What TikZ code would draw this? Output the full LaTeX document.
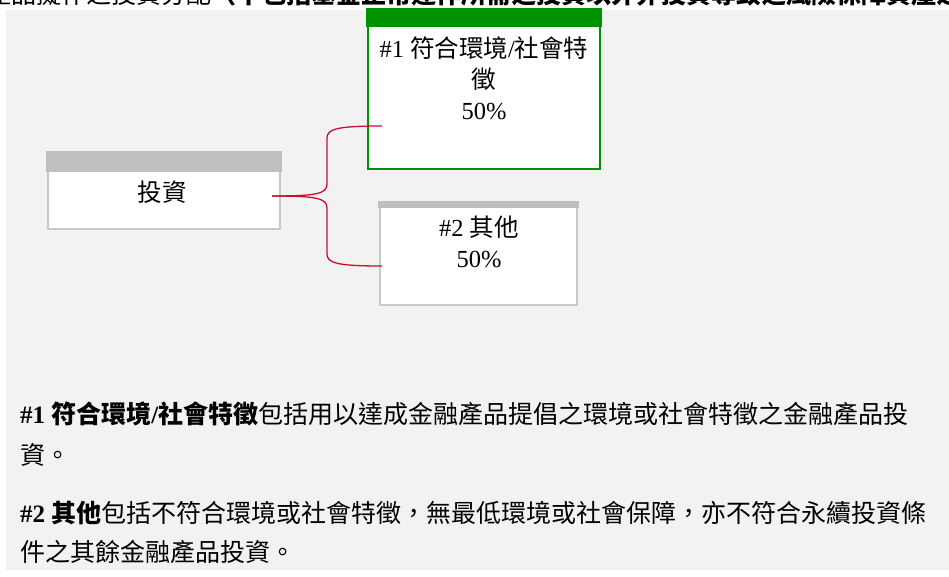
\documentclass[tikz,border=0pt]{standalone}
\usepackage{fontspec}
\setmainfont{Liberation Serif}
\newfontfamily\cjk{Noto Sans CJK TC}
\newcommand{\zh}[1]{{\cjk #1}}
\definecolor{pageGray}{HTML}{F2F2F2}
\definecolor{hdGray}{HTML}{BFBFBF}
\definecolor{edgeGray}{HTML}{C8C8C8}
\definecolor{esgGreen}{HTML}{009100}
\definecolor{linkRed}{HTML}{C8102E}

\begin{document}
\begin{tikzpicture}[x=1pt,y=-1pt,
  box/.style={draw=edgeGray, fill=white, line width=2pt, inner sep=0pt},
  boxtext/.style={font={\fontsize{24.5}{31}\selectfont}, align=center, inner sep=0pt},
  note/.style={font={\fontsize{25}{30}\selectfont}, anchor=base west, inner sep=0pt},
  link/.style={draw=linkRed, line width=1.3pt}]
\useasboundingbox (0,0) rectangle (949,576);
\fill[pageGray] (6,10) rectangle (949,570);
% line cut off at the top edge
\node[note] (cuttitle) at (-14,3) {\zh{產品擬作之投資分配}\textbf{\zh{（不包括基金正常運作所需之投資以外非投資導致之風險保障資產之總市場可能除外）}}};
% boxes
\node[box, minimum width=232, minimum height=76] (invest) at (164,191) {};
\fill[hdGray] ([shift={(-1pt,1pt)}]invest.north west) rectangle ([shift={(1pt,-20pt)}]invest.north east);
\node[box, draw=esgGreen, minimum width=232, minimum height=159] (esg) at (484,89.5) {};
\fill[esgGreen] ([shift={(-1pt,1pt)}]esg.north west) rectangle ([shift={(1pt,-18pt)}]esg.north east);
\node[box, minimum width=197, minimum height=102] (other) at (478.5,254) {};
\fill[hdGray] ([shift={(-1pt,1pt)}]other.north west) rectangle ([shift={(1pt,-6pt)}]other.north east);
% box labels
\node[boxtext] (investlbl) at (162,192) {\zh{投資}};
\node[boxtext] (esglbl) at (484,78) {\#1 \zh{符合環境}/\zh{社會特}\\\zh{徵}\\50\%};
\node[boxtext] (otherlbl) at (479,242) {\#2 \zh{其他}\\50\%};
% split
\coordinate (fork) at (272,196);
\coordinate (esgin) at (382,126);
\coordinate (otherin) at (382,266);
\draw[link] (fork) .. controls (316,196) and (327,194) .. (327,184) -- (327,138) .. controls (327,129) and (337,126) .. (esgin);
\draw[link] (fork) .. controls (316,196) and (327,198) .. (327,208) -- (327,254) .. controls (327,263) and (337,266) .. (otherin);
% notes
\node[note] (note1a) at (20,423) {\textbf{\#1 \zh{符合環境}/\zh{社會特徵}}\zh{包括用以達成金融產品提倡之環境或社會特徵之金融產品投}};
\node[note] (note1b) at (20,464) {\zh{資。}};
\node[note] (note2a) at (20,522) {\textbf{\#2 \zh{其他}}\zh{包括不符合環境或社會特徵，無最低環境或社會保障，亦不符合永續投資條}};
\node[note] (note2b) at (20,561) {\zh{件之其餘金融產品投資。}};
\end{tikzpicture}
\end{document}
